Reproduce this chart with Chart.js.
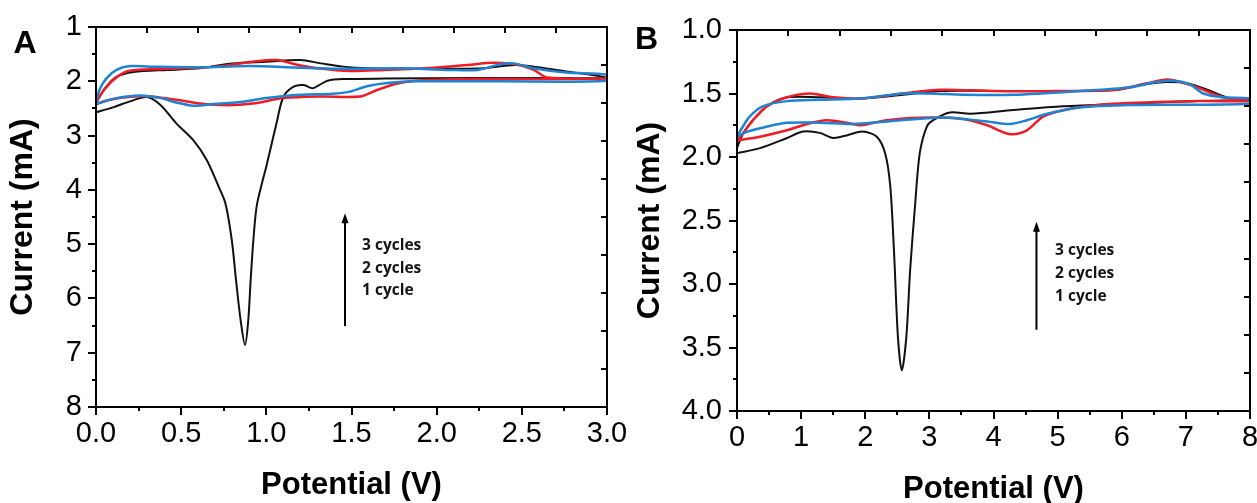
<!DOCTYPE html>
<html>
<head>
<meta charset="utf-8">
<script src="https://cdn.jsdelivr.net/npm/chart.js@4.4.0/dist/chart.umd.min.js"></script>
<style>
  html, body { margin: 0; padding: 0; background: #fff; }
  #wrap { position: relative; width: 1257px; height: 503px; overflow: hidden; }
  canvas { position: absolute; top: 0; }
  #cvA { left: 0; }
  #cvB { left: 630px; }
</style>
</head>
<body>
<div id="wrap">
  <canvas id="cvA" width="630" height="503"></canvas>
  <canvas id="cvB" width="627" height="503"></canvas>
</div>
<script>
// Panel A: 0 - 3 V, each cycle traced as one loop (cathodic branch, then back)
const aBlackV = [0, 0.1, 0.2, 0.3, 0.38, 0.47, 0.57, 0.65, 0.72, 0.76, 0.797, 0.822, 0.849, 0.875, 0.894, 0.908, 0.924, 0.943, 0.979, 1.0, 1.06, 1.1, 1.16, 1.22, 1.27, 1.31, 1.36, 1.45, 1.7, 2.2, 2.6, 3.0,
  2.76, 2.47, 2.27, 1.98, 1.59, 1.45, 1.32, 1.2, 1.0, 0.8, 0.61, 0.42, 0.22, 0.12, 0.06, 0.01, 0];
const aBlackI = [2.57, 2.48, 2.37, 2.29, 2.44, 2.77, 3.08, 3.45, 3.94, 4.25, 4.92, 5.66, 6.4, 6.86, 6.4, 5.66, 4.92, 4.31, 3.82, 3.57, 2.77, 2.29, 2.1, 2.07, 2.13, 2.07, 1.99, 1.96, 1.95, 1.94, 1.94, 1.93,
  1.82, 1.7, 1.76, 1.77, 1.76, 1.73, 1.67, 1.61, 1.64, 1.67, 1.76, 1.79, 1.83, 1.92, 2.1, 2.34, 2.42];

const aRedV = [0, 0.08, 0.22, 0.32, 0.47, 0.61, 0.77, 0.92, 1.1, 1.32, 1.55, 1.65, 1.77, 1.88, 2.18, 2.57, 3.0,
  2.65, 2.57, 2.47, 2.33, 2.18, 1.98, 1.69, 1.49, 1.3, 1.2, 1.06, 0.92, 0.71, 0.51, 0.32, 0.18, 0.1, 0.04, 0];
const aRedI = [2.42, 2.34, 2.28, 2.28, 2.34, 2.41, 2.44, 2.41, 2.31, 2.28, 2.28, 2.16, 2.04, 1.99, 1.96, 1.96, 1.95,
  1.93, 1.79, 1.69, 1.66, 1.7, 1.75, 1.79, 1.81, 1.76, 1.71, 1.61, 1.64, 1.73, 1.76, 1.78, 1.82, 1.98, 2.19, 2.4];

const aBlueV = [0, 0.12, 0.26, 0.38, 0.47, 0.57, 0.69, 0.85, 1.0, 1.2, 1.39, 1.49, 1.59, 1.71, 1.88, 2.37, 3.0,
  3.0, 2.76, 2.57, 2.45, 2.37, 2.24, 2.08, 1.79, 1.49, 1.2, 0.9, 0.61, 0.32, 0.2, 0.12, 0.06, 0.02, 0];
const aBlueI = [2.42, 2.31, 2.26, 2.31, 2.39, 2.45, 2.42, 2.38, 2.31, 2.25, 2.23, 2.19, 2.09, 2.03, 2.0, 2.0, 1.99,
  1.88, 1.84, 1.76, 1.67, 1.69, 1.79, 1.79, 1.76, 1.77, 1.75, 1.72, 1.74, 1.73, 1.72, 1.79, 1.95, 2.16, 2.4];

// Panel B: 0 - 8 V
const bBlackV = [0, 0.36, 0.78, 1.03, 1.29, 1.5, 1.71, 1.96, 2.18, 2.31, 2.39, 2.45, 2.51, 2.57, 2.64, 2.7, 2.78, 2.85, 2.96, 3.06, 3.32, 3.64, 4.31, 5.09, 6.13, 7.17, 8.0,
  7.7, 7.33, 7.02, 6.71, 6.34, 5.93, 5.09, 4.06, 3.17, 2.59, 1.92, 1.29, 0.78, 0.47, 0.25, 0.1, 0.03, 0];
const bBlackI = [1.97, 1.93, 1.85, 1.8, 1.81, 1.85, 1.83, 1.8, 1.84, 1.97, 2.23, 2.76, 3.42, 3.68, 3.42, 2.89, 2.36, 1.97, 1.76, 1.71, 1.65, 1.66, 1.63, 1.6, 1.58, 1.56, 1.55,
  1.54, 1.47, 1.42, 1.41, 1.43, 1.47, 1.48, 1.48, 1.48, 1.51, 1.54, 1.53, 1.53, 1.6, 1.71, 1.81, 1.89, 1.93];

const bRedV = [0, 0.36, 0.78, 1.09, 1.4, 1.71, 1.92, 2.34, 2.85, 3.53, 3.9, 4.26, 4.52, 4.78, 5.19, 5.87, 7.17, 8.0,
  7.58, 7.17, 6.91, 6.71, 6.39, 5.93, 5.0, 4.0, 3.17, 2.59, 1.92, 1.5, 1.14, 0.78, 0.47, 0.25, 0.1, 0];
const bRedI = [1.87, 1.84, 1.79, 1.74, 1.71, 1.73, 1.75, 1.71, 1.69, 1.7, 1.75, 1.82, 1.79, 1.68, 1.62, 1.58, 1.56, 1.56,
  1.53, 1.45, 1.41, 1.39, 1.42, 1.47, 1.48, 1.48, 1.47, 1.5, 1.54, 1.53, 1.5, 1.53, 1.6, 1.71, 1.81, 1.87];

const bBlueV = [0, 0.16, 0.47, 0.78, 1.29, 1.81, 2.34, 3.12, 3.53, 3.9, 4.26, 4.52, 4.84, 5.35, 6.13, 8.0,
  8.0, 7.58, 7.27, 7.07, 6.8, 6.55, 6.13, 5.35, 4.31, 3.53, 3.01, 2.59, 1.92, 1.29, 0.78, 0.41, 0.2, 0.08, 0];
const bBlueI = [1.84, 1.8, 1.76, 1.73, 1.73, 1.74, 1.72, 1.69, 1.7, 1.72, 1.74, 1.71, 1.66, 1.61, 1.59, 1.58,
  1.54, 1.53, 1.5, 1.43, 1.4, 1.41, 1.45, 1.48, 1.51, 1.51, 1.5, 1.5, 1.54, 1.55, 1.56, 1.6, 1.68, 1.77, 1.84];

const cycleLabels = ['3 cycles', '2 cycles', '1 cycle'];
const xTitle = 'Potential (V)';
const yTitle = 'Current (mA)';

const FONT = '"Liberation Sans", Arial, sans-serif';
Chart.defaults.font.family = FONT;
Chart.defaults.color = '#000';

const toPoints = (vs, is) => vs.map((v, i) => ({ x: v, y: is[i] }));

const makeSet = (label, vs, is, color, width, order) => ({
  label,
  data: toPoints(vs, is),
  showLine: true,
  borderColor: color,
  borderWidth: width,
  pointRadius: 0,
  tension: 0.3,
  fill: false,
  order
});

// frame, ticks, panel letter and arrow note
const framePlugin = {
  id: 'frame',
  afterDatasetsDraw(chart, args, o) {
    const { ctx, chartArea: a, scales: { x, y } } = chart;
    ctx.save();
    ctx.strokeStyle = '#000';
    ctx.lineWidth = 2;
    ctx.strokeRect(a.left, a.top, a.right - a.left, a.bottom - a.top);

    ctx.beginPath();
    const isMajor = (v, step) => Math.abs(v / step - Math.round(v / step)) < 1e-6;
    for (let v = x.min; v <= x.max + 1e-9; v += o.xMinor) {
      const px = Math.round(x.getPixelForValue(v));
      ctx.moveTo(px, a.bottom);
      ctx.lineTo(px, a.bottom + (isMajor(v - x.min, o.xMajor) ? 8 : 4));
    }
    for (let v = y.min; v <= y.max + 1e-9; v += o.yMinor) {
      const py = Math.round(y.getPixelForValue(v));
      ctx.moveTo(a.left, py);
      ctx.lineTo(a.left - (isMajor(v - y.min, o.yMajor) ? 8 : 4), py);
    }
    // top / right axes: ten plain divisions, ticks inward
    for (let k = 1; k < 10; k++) {
      const px = Math.round(a.left + (a.right - a.left) * k / 10);
      ctx.moveTo(px, a.top);
      ctx.lineTo(px, a.top + 6);
      const py = Math.round(a.top + (a.bottom - a.top) * k / 10);
      ctx.moveTo(a.right, py);
      ctx.lineTo(a.right - 6, py);
    }
    ctx.stroke();

    // arrow
    const ax = x.getPixelForValue(o.note.x);
    const ay0 = y.getPixelForValue(o.note.y0);
    const ay1 = y.getPixelForValue(o.note.y1);
    ctx.lineWidth = 2;
    ctx.beginPath();
    ctx.moveTo(ax, ay1);
    ctx.lineTo(ax, ay0 + 8);
    ctx.stroke();
    ctx.fillStyle = '#000';
    ctx.beginPath();
    ctx.moveTo(ax, ay0);
    ctx.lineTo(ax - 3.5, ay0 + 10);
    ctx.lineTo(ax + 3.5, ay0 + 10);
    ctx.closePath();
    ctx.fill();

    ctx.fillStyle = '#141414';
    ctx.font = 'bold 15.5px "Open Sans", sans-serif';
    ctx.textAlign = 'left';
    ctx.textBaseline = 'middle';
    const tx = x.getPixelForValue(o.note.tx);
    cycleLabels.forEach((t, i) => ctx.fillText(t, tx, y.getPixelForValue(o.note.ty[i])));

    ctx.fillStyle = '#000';
    ctx.font = 'bold 32px ' + FONT;
    ctx.textAlign = 'center';
    ctx.fillText(o.letter, o.letterX, o.letterY);
    ctx.restore();
  }
};

const buildChart = (id, sets, cfg) => new Chart(document.getElementById(id), {
  type: 'scatter',
  data: { datasets: sets },
  options: {
    responsive: false,
    animation: false,
    events: [],
    layout: { padding: cfg.padding },
    plugins: {
      legend: { display: false },
      tooltip: { enabled: false },
      frame: cfg.frame
    },
    scales: {
      x: {
        type: 'linear',
        min: cfg.xMin,
        max: cfg.xMax,
        grid: { display: false, drawTicks: false },
        border: { display: false },
        ticks: {
          stepSize: cfg.xStep,
          padding: 10,
          font: { size: 29 },
          color: '#000',
          callback: cfg.xFmt
        },
        title: {
          display: true,
          text: xTitle,
          color: '#000',
          font: { size: 31, weight: 'bold', lineHeight: 1 },
          padding: { top: 0, bottom: cfg.xTitlePad }
        },
        afterFit: (s) => { s.height = cfg.xHeight; s.paddingLeft = 0; s.paddingRight = 0; }
      },
      y: {
        type: 'linear',
        reverse: true,
        min: cfg.yMin,
        max: cfg.yMax,
        grid: { display: false, drawTicks: false },
        border: { display: false },
        ticks: {
          stepSize: cfg.yStep,
          padding: cfg.yPad,
          font: { size: 29 },
          color: '#000',
          callback: cfg.yFmt
        },
        title: {
          display: true,
          text: yTitle,
          color: '#000',
          font: { size: 32, weight: 'bold', lineHeight: 1 },
          padding: { top: cfg.yTitlePad, bottom: 0 }
        },
        afterFit: (s) => { s.width = cfg.yWidth; s.paddingTop = 0; s.paddingBottom = 0; }
      }
    }
  },
  plugins: [framePlugin]
});

const BLACK = '#111111';
const RED = '#ee1c24';
const BLUE = '#1f82d2';

buildChart('cvA', [
  makeSet(cycleLabels[0], aBlueV, aBlueI, BLUE, 2.5, 1),
  makeSet(cycleLabels[1], aRedV, aRedI, RED, 2.5, 2),
  makeSet(cycleLabels[2], aBlackV, aBlackI, BLACK, 2, 3)
], {
  padding: { left: 0, top: 27, right: 23, bottom: 0 },
  xMin: 0, xMax: 3, xStep: 0.5, xFmt: (v) => v.toFixed(1),
  yMin: 1, yMax: 8, yStep: 1, yFmt: (v) => String(v),
  xHeight: 96, yWidth: 96, yPad: 14, xTitlePad: 2.5, yTitlePad: 7,
  frame: {
    xMinor: 0.25, xMajor: 0.5, yMinor: 0.5, yMajor: 1,
    letter: 'A', letterX: 25, letterY: 44,
    note: { x: 1.462, y0: 4.43, y1: 6.51, tx: 1.562, ty: [5.03, 5.45, 5.86] }
  }
});

buildChart('cvB', [
  makeSet(cycleLabels[0], bBlueV, bBlueI, BLUE, 2.5, 1),
  makeSet(cycleLabels[1], bRedV, bRedI, RED, 2.5, 2),
  makeSet(cycleLabels[2], bBlackV, bBlackI, BLACK, 2, 3)
], {
  padding: { left: 0, top: 30, right: 7, bottom: 0 },
  xMin: 0, xMax: 8, xStep: 1, xFmt: (v) => String(v),
  yMin: 1, yMax: 4, yStep: 0.5, yFmt: (v) => v.toFixed(1),
  xHeight: 92, yWidth: 107, yPad: 15, xTitlePad: -1.5, yTitlePad: 4,
  frame: {
    xMinor: 0.5, xMajor: 1, yMinor: 0.25, yMajor: 0.5,
    letter: 'B', letterX: 16.5, letterY: 40,
    note: { x: 4.67, y0: 2.51, y1: 3.36, tx: 4.96, ty: [2.74, 2.92, 3.1] }
  }
});
</script>
</body>
</html>
